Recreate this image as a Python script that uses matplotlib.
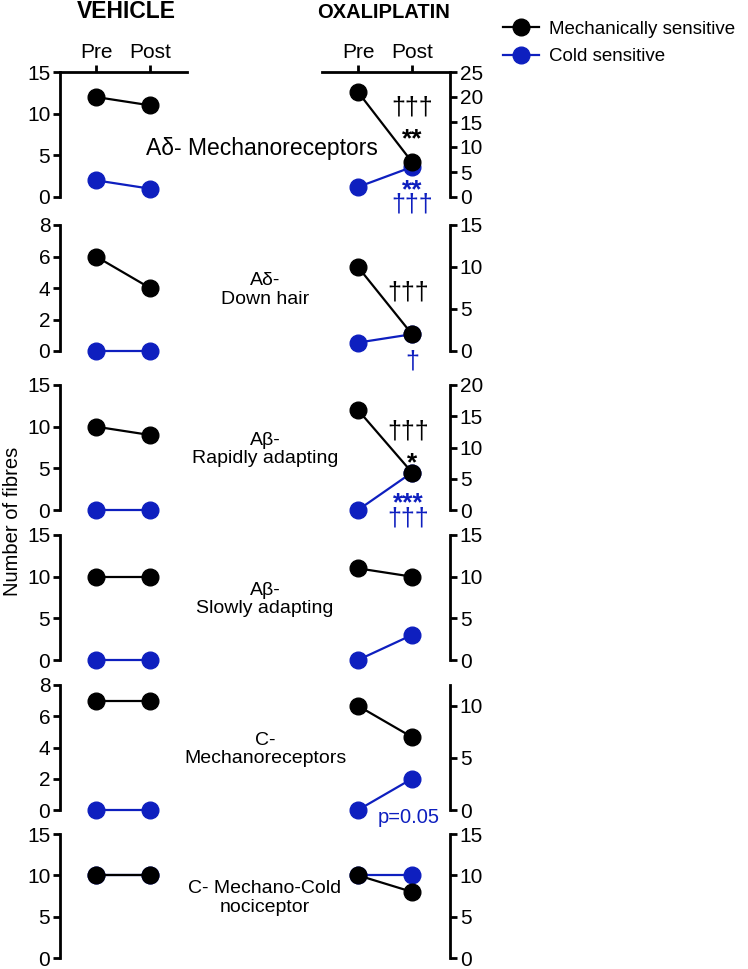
import numpy as np
import matplotlib
matplotlib.use("Agg")
import matplotlib.pyplot as plt
from matplotlib.lines import Line2D

plt.rcParams['font.family'] = ['Liberation Sans', 'DejaVu Sans']

# ---- data (Pre, Post) ----
panels = ["A\u03b4- Mechanoreceptors", "A\u03b4-\nDown hair", "A\u03b2-\nRapidly adapting",
          "A\u03b2-\nSlowly adapting", "C-\nMechanoreceptors", "C- Mechano-Cold\nnociceptor"]
veh_mech = [[12, 11], [6, 4], [10, 9], [10, 10], [7, 7], [10, 10]]
veh_cold = [[2, 1], [0, 0], [0, 0], [0, 0], [0, 0], [10, 10]]
oxa_mech = [[21, 7], [10, 2], [16, 6], [11, 10], [10, 7], [10, 8]]
oxa_cold = [[2, 6], [1, 2], [0, 6], [0, 3], [0, 3], [10, 10]]
veh_ylim = [15, 8, 15, 15, 8, 15]
veh_yticks = [[0, 5, 10, 15], [0, 2, 4, 6, 8], [0, 5, 10, 15], [0, 5, 10, 15], [0, 2, 4, 6, 8], [0, 5, 10, 15]]
oxa_ylim = [25, 15, 20, 15, 12, 15]
oxa_yticks = [[0, 5, 10, 15, 20, 25], [0, 5, 10, 15], [0, 5, 10, 15, 20], [0, 5, 10, 15], [0, 5, 10], [0, 5, 10, 15]]
xlabels = ["Pre", "Post"]

BLUE = "#0e1fbf"
W, H = 748, 969
# panel pixel extents (top, bottom)
rows = [(72, 197), (225, 351), (385, 510), (535, 660), (685, 810), (834, 958)]
TICK_FS = 15

fig = plt.figure(figsize=(W / 100, H / 100), dpi=100)


def px_axes(x0, x1, top, bot):
    return fig.add_axes([x0 / W, 1 - bot / H, (x1 - x0) / W, (bot - top) / H])


def draw(ax, mech, cold):
    x = [0, 1]
    ax.plot(x, cold, color=BLUE, lw=1.6, marker='o', ms=12, mfc=BLUE, mec=BLUE, clip_on=False, zorder=3)
    ax.plot(x, mech, color='black', lw=1.6, marker='o', ms=12, mfc='black', mec='black', clip_on=False, zorder=4)


for i, (top, bot) in enumerate(rows):
    # vehicle
    ax = px_axes(60, 187, top, bot)
    draw(ax, veh_mech[i], veh_cold[i])
    ax.set_xlim(-36 / 54, 91 / 54)
    ax.set_ylim(0, veh_ylim[i])
    ax.set_yticks(veh_yticks[i])
    for s in ['right', 'bottom']:
        ax.spines[s].set_visible(False)
    ax.spines['left'].set_linewidth(2)
    ax.spines['top'].set_linewidth(2)
    ax.tick_params(axis='y', width=2, length=5, labelsize=TICK_FS, pad=2)
    if i == 0:
        ax.xaxis.tick_top()
        ax.set_xticks([0, 1])
        ax.set_xticklabels(xlabels)
        ax.tick_params(axis='x', width=2, length=5, labelsize=TICK_FS, pad=2)
    else:
        ax.spines['top'].set_visible(False)
        ax.set_xticks([])

    # oxaliplatin
    ax2 = px_axes(322, 450, top, bot)
    draw(ax2, oxa_mech[i], oxa_cold[i])
    ax2.set_xlim(-36 / 54, 92 / 54)
    ax2.set_ylim(0, oxa_ylim[i])
    ax2.set_yticks(oxa_yticks[i])
    ax2.yaxis.tick_right()
    for s in ['left', 'bottom']:
        ax2.spines[s].set_visible(False)
    ax2.spines['right'].set_linewidth(2)
    ax2.spines['top'].set_linewidth(2)
    ax2.tick_params(axis='y', width=2, length=5, labelsize=TICK_FS, pad=2)
    if i == 0:
        ax2.xaxis.tick_top()
        ax2.set_xticks([0, 1])
        ax2.set_xticklabels(xlabels)
        ax2.tick_params(axis='x', width=2, length=5, labelsize=TICK_FS, pad=2)
    else:
        ax2.spines['top'].set_visible(False)
        ax2.set_xticks([])

    # panel label
    if i == 0:
        fig.text(262 / W, 1 - 148 / H, panels[i], ha='center', va='center', fontsize=16.5)
    else:
        cy = (top + bot) / 2 + 2
        fig.text(265 / W, 1 - cy / H, panels[i], ha='center', va='center', fontsize=14, linespacing=1.15)

    if i == 0:
        ax2.text(1, 17.8, "\u2020\u2020\u2020", ha='center', va='center', fontsize=18)
        ax2.text(1, 11.6, "**", ha='center', va='center', fontsize=19, fontweight='bold')
        ax2.text(1, 1.3, "**", ha='center', va='center', fontsize=19, fontweight='bold', color=BLUE)
        ax2.text(1, -1.5, "\u2020\u2020\u2020", ha='center', va='center', fontsize=18, color=BLUE)
    elif i == 1:
        ax2.text(0.93, 7.0, "\u2020\u2020\u2020", ha='center', va='center', fontsize=18)
        ax2.text(1, -1.3, "\u2020", ha='center', va='center', fontsize=18, color=BLUE)
    elif i == 2:
        ax2.text(0.93, 12.5, "\u2020\u2020\u2020", ha='center', va='center', fontsize=18)
        ax2.text(1, 7.5, "*", ha='center', va='center', fontsize=19, fontweight='bold')
        ax2.text(0.93, 1.0, "***", ha='center', va='center', fontsize=19, fontweight='bold', color=BLUE)
        ax2.text(0.93, -1.3, "\u2020\u2020\u2020", ha='center', va='center', fontsize=18, color=BLUE)
    elif i == 4:
        ax2.text(0.93, -0.75, "p=0.05", ha='center', va='center', fontsize=14.5, color=BLUE)

# titles
fig.text(126 / W, 1 - 12 / H, "VEHICLE", ha='center', va='center', fontsize=16.5, fontweight='bold')
fig.text(384 / W, 1 - 12 / H, "OXALIPLATIN", ha='center', va='center', fontsize=14.5, fontweight='bold')
fig.text(13 / W, 1 - 521 / H, "Number of fibres", ha='center', va='center', rotation=90, fontsize=14.5)

handles = [Line2D([], [], color='black', lw=1.6, marker='o', ms=12),
           Line2D([], [], color=BLUE, lw=1.6, marker='o', ms=12)]
fig.legend(handles, ["Mechanically sensitive", "Cold sensitive"], loc='upper left',
           bbox_to_anchor=(486 / W, 1 - 4 / H), frameon=False, fontsize=13.5,
           handlelength=1.9, handletextpad=0.55, labelspacing=0.55)

fig.savefig("out.png", dpi=100)
